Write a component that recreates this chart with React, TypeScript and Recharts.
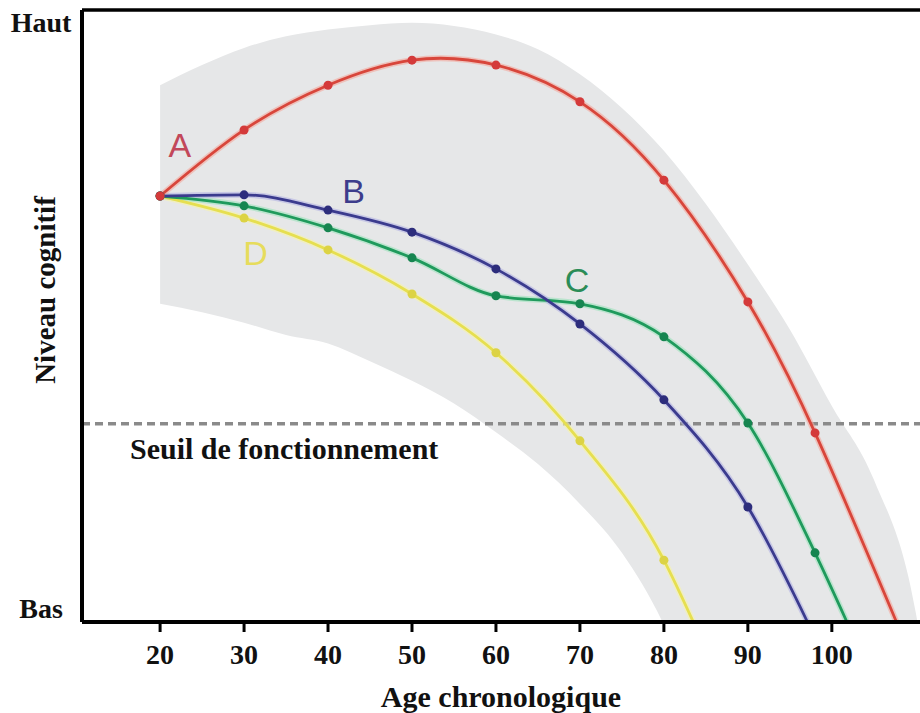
import React from "react";
import {
  ComposedChart,
  Area,
  Line,
  XAxis,
  YAxis,
  ReferenceLine,
  ReferenceDot,
} from "recharts";

// ages (years) and cognitive level (0 = "Bas", 100 = "Haut")
const agesA = [20, 30, 40, 50, 60, 70, 80, 90, 98, 107.7];
const levelsA = [69.6, 80.4, 87.7, 91.8, 91.0, 85.0, 72.2, 52.3, 30.9, 0];
const agesB = [20, 30, 40, 50, 60, 70, 80, 90, 97.1];
const levelsB = [69.6, 69.8, 67.3, 63.7, 57.7, 48.7, 36.3, 18.8, 0];
const agesC = [20, 30, 40, 50, 60, 70, 80, 90, 98, 101.8];
const levelsC = [69.6, 68.0, 64.4, 59.5, 53.3, 52.0, 46.6, 32.5, 11.3, 0];
const agesD = [20, 30, 40, 50, 60, 70, 80, 83.5];
const levelsD = [69.6, 66.0, 60.8, 53.6, 44.0, 29.6, 10.1, 0];

// grey envelope (lower edge keeps falling below the axis, where it is clipped)
const bandAges = [20, 25, 30, 35, 40, 45, 50, 55, 60, 65, 70, 75, 80, 85, 90, 95, 100, 105, 110, 110.5];
const bandLow = [52.0, 50.6, 48.9, 46.9, 45.5, 42.6, 39.4, 35.7, 31.0, 25.8, 19.3, 11.3, -0.5, -18, -40, -60, -60, -60, -60, -60];
const bandHigh = [87.7, 91.0, 93.8, 95.7, 96.8, 97.5, 97.9, 97.4, 96.0, 93.6, 89.5, 84.0, 77.0, 68.3, 58.4, 47.8, 35.3, 23.3, 1.5, -2.5];

const threshold = 32.4;
const ageTicks = [20, 30, 40, 50, 60, 70, 80, 90, 100];
const levelTicks = [0, 100];
const levelTickLabels = ["Bas", "Haut"];

const curveNames = ["A", "B", "C", "D"];
const curveTypes = ["natural", "monotone", "monotone", "monotone"];
const curveLabelAges = [21, 41.7, 68.2, 29.9];
const curveLabelLevels = [76.0, 68.5, 53.9, 58.3];

const lineColors = ["#d8463b", "#3b3b8e", "#1f9a5c", "#e6df50"];
const haloColors = ["#f3a99c", "#b4b4e2", "#9fe2bd", "#f6f3a6"];
const dotColors = ["#d43a3a", "#2d2d7c", "#168550", "#dcd344"];
const tagColors = ["#c2485a", "#3d3d8c", "#2b8c57", "#e6dc5c"];

const SERIF = '"Liberation Serif", "Times New Roman", serif';
const SANS = '"Liberation Sans", Arial, sans-serif';

const toPoints = (ages: number[], levels: number[]) =>
  ages.map((age, i) => ({ age, level: levels[i], marked: i < ages.length - 1 }));

const series = [
  toPoints(agesA, levelsA),
  toPoints(agesB, levelsB),
  toPoints(agesC, levelsC),
  toPoints(agesD, levelsD),
];

// draw D first so that A ends up on top (the shared start point is red)
const drawOrder = [3, 2, 1, 0];

const band = bandAges.map((age, i) => ({ age, range: [bandLow[i], bandHigh[i]] }));

const makeDot = (color: string) => (props: any) => {
  const { cx, cy, payload, index } = props;
  if (!payload?.marked) return <g key={`d-${index}`} />;
  return <circle key={`d-${index}`} cx={cx} cy={cy} r={4.5} fill={color} />;
};

const AgeTick = ({ x, y, payload }: any) => (
  <text x={x} y={y + 32} textAnchor="middle" fontFamily={SERIF} fontWeight="bold" fontSize={28} fill="#111">
    {payload.value}
  </text>
);

const LevelTick = ({ x, y, payload }: any) => {
  const i = levelTicks.indexOf(payload.value);
  return (
    <text
      x={x - 41}
      y={payload.value === 100 ? y + 22 : y - 4}
      textAnchor="middle"
      fontFamily={SERIF}
      fontWeight="bold"
      fontSize={28}
      fill="#111"
    >
      {levelTickLabels[i]}
    </text>
  );
};

export default function App() {
  return (
    <div style={{ position: "absolute", left: 0, top: 0, width: 920, height: 713, background: "#fff" }}>
      <ComposedChart width={920} height={713} margin={{ top: 10, right: 0, bottom: 0, left: 0 }}>
        <XAxis
          type="number"
          dataKey="age"
          domain={[10.7, 110.5]}
          allowDataOverflow
          ticks={ageTicks}
          tick={<AgeTick />}
          tickSize={10}
          tickMargin={0}
          tickLine={{ stroke: "#000", strokeWidth: 3 }}
          axisLine={{ stroke: "#000", strokeWidth: 4 }}
          height={91}
          label={{
            content: ({ viewBox }: any) => (
              <text
                x={viewBox.x + viewBox.width / 2}
                y={viewBox.y + 85}
                textAnchor="middle"
                fontFamily={SERIF}
                fontWeight="bold"
                fontSize={30}
                fill="#111"
              >
                Age chronologique
              </text>
            ),
          }}
        />
        <YAxis
          type="number"
          domain={[0, 100]}
          allowDataOverflow
          ticks={levelTicks}
          tick={<LevelTick />}
          tickLine={false}
          tickSize={0}
          tickMargin={0}
          axisLine={{ stroke: "#000", strokeWidth: 4 }}
          width={82}
          label={{
            content: ({ viewBox }: any) => {
              const x = viewBox.x + 55;
              const y = viewBox.y + 280;
              return (
                <text
                  x={x}
                  y={y}
                  transform={`rotate(-90, ${x}, ${y})`}
                  textAnchor="middle"
                  fontFamily={SERIF}
                  fontWeight="bold"
                  fontSize={29}
                  fill="#111"
                >
                  Niveau cognitif
                </text>
              );
            },
          }}
        />
        <Area
          data={band}
          dataKey="range"
          type="monotone"
          fill="#e6e7e8"
          fillOpacity={1}
          stroke="none"
          isAnimationActive={false}
          activeDot={false}
        />
        <ReferenceLine y={100} stroke="#000" strokeWidth={3.5} />
        <ReferenceLine
          y={threshold}
          stroke="#8a8a8a"
          strokeWidth={3.5}
          strokeDasharray="8 5"
          label={{
            content: ({ viewBox }: any) => (
              <text
                x={viewBox.x + 48}
                y={viewBox.y + 35}
                fontFamily={SERIF}
                fontWeight="bold"
                fontSize={30}
                fill="#111"
              >
                Seuil de fonctionnement
              </text>
            ),
          }}
        />
        {drawOrder.map((i) => (
          <Line
            key={`halo-${curveNames[i]}`}
            data={series[i]}
            dataKey="level"
            type={curveTypes[i] as any}
            stroke={haloColors[i]}
            strokeOpacity={0.6}
            strokeWidth={6}
            dot={false}
            activeDot={false}
            isAnimationActive={false}
          />
        ))}
        {drawOrder.map((i) => (
          <Line
            key={curveNames[i]}
            data={series[i]}
            dataKey="level"
            type={curveTypes[i] as any}
            stroke={lineColors[i]}
            strokeWidth={2.8}
            dot={makeDot(dotColors[i])}
            activeDot={false}
            isAnimationActive={false}
          />
        ))}
        {curveNames.map((name, i) => (
          <ReferenceDot
            key={`tag-${name}`}
            x={curveLabelAges[i]}
            y={curveLabelLevels[i]}
            r={0}
            shape={(p: any) => (
              <text x={p.cx} y={p.cy} fontFamily={SANS} fontSize={34} fill={tagColors[i]}>
                {name}
              </text>
            )}
          />
        ))}
      </ComposedChart>
    </div>
  );
}
